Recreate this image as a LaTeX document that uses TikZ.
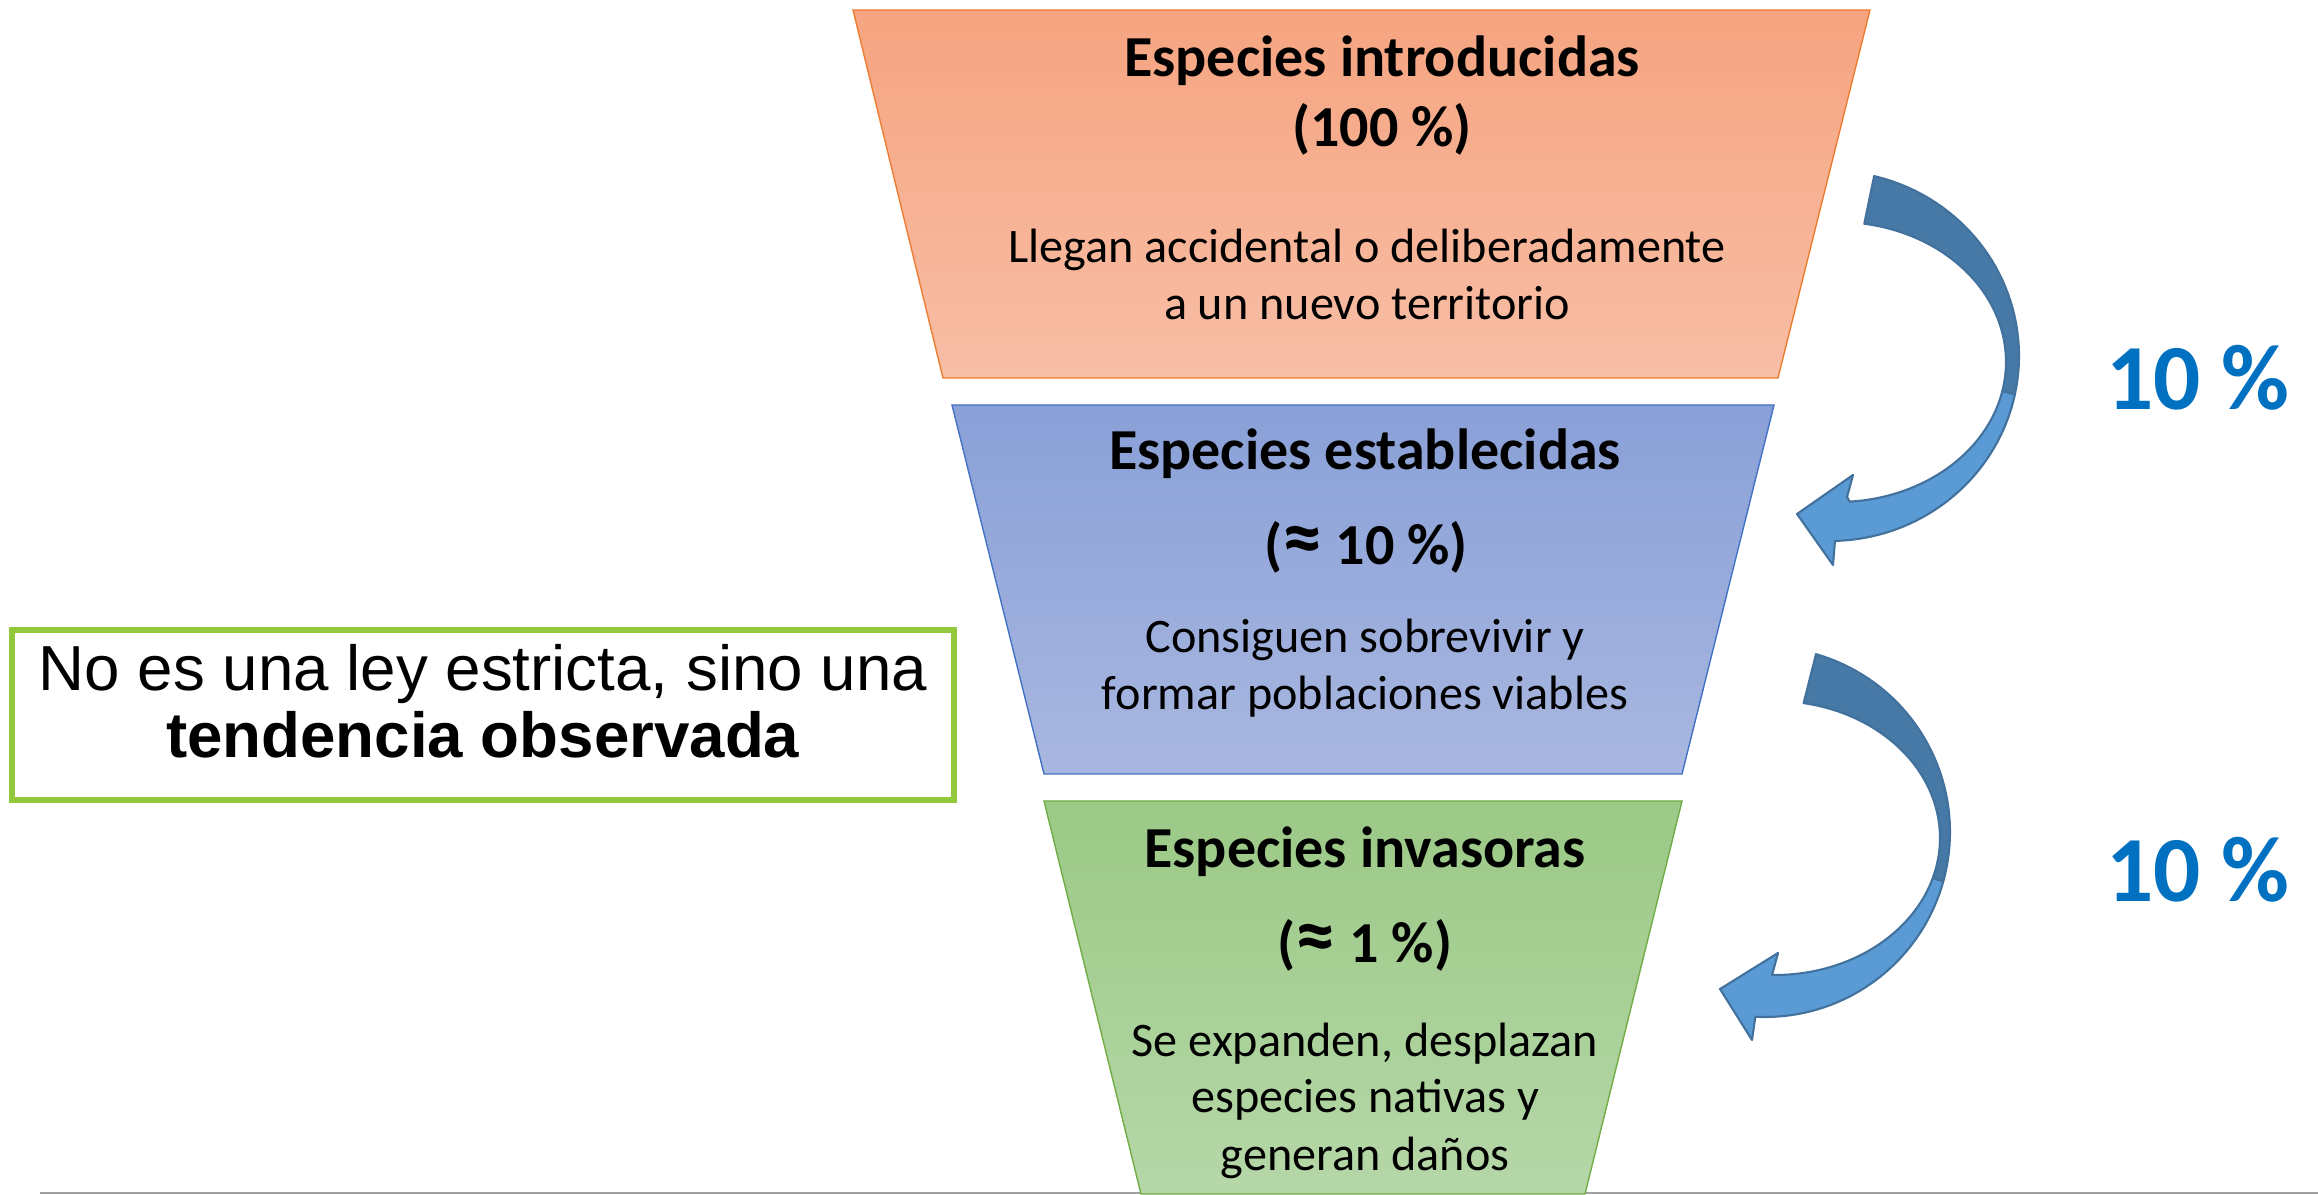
\documentclass[tikz,border=0pt]{standalone}
\usepackage{fontspec}
\setmainfont{Carlito}
\newfontfamily\arialfont{Liberation Sans}

\definecolor{naranjaA}{RGB}{246,164,128}
\definecolor{naranjaB}{RGB}{247,190,166}
\definecolor{naranjaborde}{RGB}{237,125,49}
\definecolor{azulA}{RGB}{137,160,215}
\definecolor{azulB}{RGB}{169,183,224}
\definecolor{azulborde}{RGB}{68,114,196}
\definecolor{verdeA}{RGB}{155,201,134}
\definecolor{verdeB}{RGB}{182,215,168}
\definecolor{verdeborde}{RGB}{112,173,71}
\definecolor{flechaoscuro}{RGB}{71,121,167}
\definecolor{flechaclaro}{RGB}{91,155,213}
\definecolor{flechaborde}{RGB}{65,113,156}
\definecolor{pctazul}{RGB}{0,112,192}
\definecolor{cajaverde}{RGB}{146,200,60}
\definecolor{lineagris}{RGB}{160,160,160}

\newcommand{\aprox}{{\fontsize{23}{20}\selectfont ≈}}

\begin{document}
\begin{tikzpicture}[
        x=0.01cm, y=-0.01cm, % координаты в пикселях
        titulo/.style={font=\bfseries\fontsize{16.5}{20}\selectfont, anchor=base, inner sep=0pt}, % заголовки
        texto/.style={font=\fontsize{13.7}{16}\selectfont, anchor=base, inner sep=0pt}, % описание
        pct/.style={font=\bfseries\fontsize{26.5}{32}\selectfont, text=pctazul, anchor=base, inner sep=0pt},
        curva/.style={draw=flechaborde, line width=0.6pt, line join=round}, % стрелки
        nota/.style={font=\arialfont\fontsize{18.1}{19.06}\selectfont, align=center, inner sep=0pt},
        marco/.style={draw=cajaverde, line width=1.7pt},
    ]
    \useasboundingbox (0,0) rectangle (2318,1195);

    \draw[lineagris, line width=0.6pt] (40,1193) -- (2318,1193);

    % трапеции
    \draw[draw=naranjaborde, top color=naranjaA, bottom color=naranjaB] (853,10) -- (1870,10) -- (1778,378) -- (943,378) -- cycle;
    \draw[draw=azulborde, top color=azulA, bottom color=azulB] (952,405) -- (1774,405) -- (1682,774) -- (1044,774) -- cycle;
    \draw[draw=verdeborde, top color=verdeA, bottom color=verdeB] (1044,801) -- (1682,801) -- (1585,1194) -- (1141,1194) -- cycle;

    \node[titulo] (intro) at (1382,77) {Especies introducidas};
    \node[titulo] (intropct) at (1382,147) {(100 \%)};
    \node[texto] (intro1) at (1367,263) {Llegan accidental o deliberadamente};
    \node[texto] (intro2) at (1367,320) {a un nuevo territorio};

    \node[titulo] (estab) at (1365,470) {Especies establecidas};
    \node[titulo] (estabpct) at (1366,565) {(\aprox{} 10 \%)};
    \node[texto] (estab1) at (1365,653) {Consiguen sobrevivir y};
    \node[texto] (estab2) at (1365,710) {formar poblaciones viables};

    \node[titulo] (inv) at (1365,868) {Especies invasoras};
    \node[titulo] (invpct) at (1365,963) {(\aprox{} 1 \%)};
    \node[texto] (inv1) at (1365,1057) {Se expanden, desplazan};
    \node[texto] (inv2) at (1365,1113) {especies nativas y};
    \node[texto] (inv3) at (1365,1170) {generan daños};

    % стрелки
    \draw[curva, fill=flechaoscuro] plot[domain=-76.5:12, samples=40] ({1830+189*cos(\x)}, {356+185*sin(\x)})
        -- plot[domain=12:-81, samples=40] ({1838+168*cos(\x)}, {362+140*sin(\x)}) -- cycle;
    \draw[curva, fill=flechaclaro] plot[domain=12:88.5, samples=40] ({1830+189*cos(\x)}, {356+185*sin(\x)})
        -- (1833,565) -- (1797,514) -- (1853,475) -- (1847,497)
        -- plot[domain=86:12, samples=40] ({1838+168*cos(\x)}, {362+140*sin(\x)}) -- cycle;

    \draw[curva, fill=flechaoscuro] plot[domain=-74:15.5, samples=40] ({1765+185*cos(\x)}, {832+185*sin(\x)})
        -- plot[domain=17:-80, samples=40] ({1775+165*cos(\x)}, {838+137*sin(\x)}) -- cycle;
    \draw[curva, fill=flechaclaro] plot[domain=15.5:93, samples=40] ({1765+185*cos(\x)}, {832+185*sin(\x)})
        -- (1752,1040) -- (1720,989) -- (1778,953) -- (1772,975)
        -- plot[domain=91:17, samples=40] ({1775+165*cos(\x)}, {838+137*sin(\x)}) -- cycle;

    \node[pct] (pct1) at (2198,410) {10 \%};
    \node[pct] (pct2) at (2198,902) {10 \%};

    % рамка
    \draw[marco] (12,630) rectangle (954,800);
    \node[nota] (nota) at (483,701) {No es una ley estricta, sino una\\\textbf{tendencia observada}};
\end{tikzpicture}
\end{document}
